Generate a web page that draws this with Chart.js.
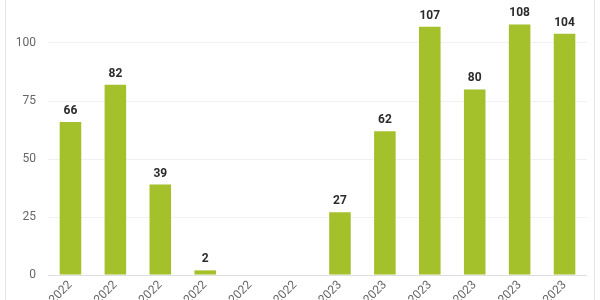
<!DOCTYPE html>
<html>
<head>
<meta charset="utf-8">
<script src="https://cdn.jsdelivr.net/npm/chart.js@4"></script>
<style>
  html, body { margin:0; padding:0; width:600px; height:300px; overflow:hidden; background:#fff; }
  #card { position:absolute; left:5px; top:-20px; width:588px; height:400px; border:1px solid #e4e4e4; }
  #wrap { position:absolute; left:0; top:-40px; width:600px; height:380px; }
</style>
</head>
<body>
<div id="card"></div>
<div id="wrap"><canvas id="chart"></canvas></div>
<script>
// months shown along the bottom (cropped in the picture)
const months = ['Jul 2022','Aug 2022','Sep 2022','Oct 2022','Nov 2022','Dec 2022',
                'Jan 2023','Feb 2023','Mar 2023','Apr 2023','May 2023','Jun 2023'];
const counts = [66, 82, 39, 2, 0, 0, 27, 62, 107, 80, 108, 104];
const yTicks = [0, 25, 50, 75, 100, 125];

const BAR = '#a4c02a';

// value labels above bars (no datalabels plugin offline)
const barValues = {
  id: 'barValues',
  afterDatasetsDraw(chart) {
    const ctx = chart.ctx;
    const meta = chart.getDatasetMeta(0);
    ctx.save();
    ctx.font = 'bold 12px Roboto';
    ctx.fillStyle = '#2b2b2b';
    ctx.textAlign = 'center';
    ctx.textBaseline = 'bottom';
    meta.data.forEach((bar, i) => {
      const v = counts[i];
      if (!v) return;
      ctx.fillText(String(v), bar.x, bar.y - 5);
    });
    ctx.restore();
  }
};

new Chart(document.getElementById('chart'), {
  type: 'bar',
  data: {
    labels: months,
    datasets: [{
      data: counts,
      backgroundColor: BAR,
      borderWidth: 0,
      barPercentage: 0.6,
      categoryPercentage: 0.8,
    }],
  },
  options: {
    responsive: true, maintainAspectRatio: false, animation: false,
    layout: { padding: { left: 8, right: 13, top: 25, bottom: 5 } },
    plugins: { legend: { display: false }, tooltip: { enabled: false } },
    scales: {
      x: {
        grid: { display: false },
        border: { display: false },
        ticks: { color: '#666', font: { family: 'Roboto', size: 12 }, minRotation: 45, maxRotation: 45, padding: -5 },
        afterFit: s => { s.height = 60; },
      },
      y: {
        min: 0, max: 125,
        afterBuildTicks: s => { s.ticks = yTicks.map(v => ({ value: v })); },
        grid: { color: c => c.tick && c.tick.value === 0 ? '#dedede' : '#f1f1f1', drawTicks: false },
        border: { display: false },
        ticks: { color: '#666', font: { family: 'Roboto', size: 12 }, padding: 12 },
        afterFit: s => { s.width = 40; },
      },
    },
  },
  plugins: [barValues],
});
</script>
</body>
</html>
